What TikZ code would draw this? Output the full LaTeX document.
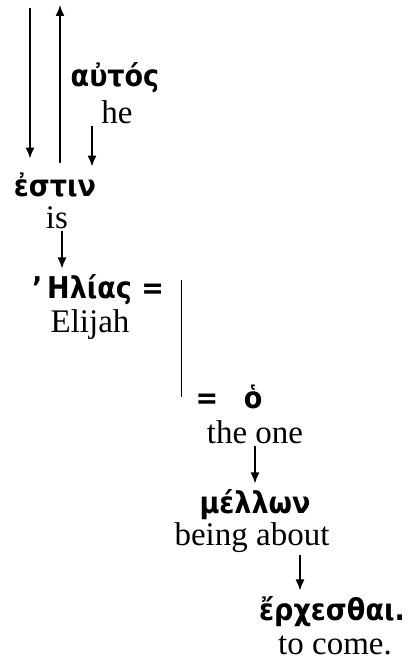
\documentclass[tikz,border=0pt]{standalone}
\usepackage{fontspec}
\setmainfont{Liberation Serif}
\newfontfamily\grk{DejaVu Sans Condensed}
\usetikzlibrary{arrows.meta}
\begin{document}
\begin{tikzpicture}[x=0.5pt,y=-0.5pt,
  gk/.style={font=\grk\bfseries\fontsize{15}{18}\selectfont, inner sep=1pt},
  en/.style={font=\fontsize{16.5}{19}\selectfont, inner sep=1pt},
  arr/.style={-{Latex[length=5.5pt,width=4.5pt]}, line width=0.7pt}
]
\useasboundingbox (0,0) rectangle (414,662);
% words and glosses
\node[gk] (autos) at (115,78) {αὐτός};
\node[en] (he) at (117,112) {he};
\node[gk] (estin) at (55,185) {ἐστιν};
\node[en] (is) at (57,218) {is};
\node[gk] (elias) at (98,290) {’\,Ηλίας =};
\node[en] (elijah) at (90,325) {Elijah};
\node[gk] (ho) at (229,397) {=\hspace{0.85em}ὁ};
\node[en] (theone) at (255,432) {the one};
\node[gk] (mellon) at (255,505) {μέλλων};
\node[en] (being) at (252,538) {being about};
\node[gk] (erch) at (332,612) {ἔρχεσθαι.};
\node[en] (tocome) at (335,645) {to come.};
% free ends at the top
\coordinate (top1) at (30,8);
\coordinate (top2) at (60,5);
\coordinate (barbot) at ([xshift=-6pt]ho.west);
% connectors
\draw[arr] (top1) -- ([xshift=-12.5pt,yshift=6pt]estin.north);
\draw[arr] ([xshift=2.5pt,yshift=4pt]estin.north) -- (top2);
\draw[arr] ([xshift=-12.5pt]he.south) -- ([xshift=18.5pt,yshift=2pt]estin.north);
\draw[arr] ([xshift=2.5pt]is.south) -- ([xshift=-18pt,yshift=2pt]elias.north);
\draw[line width=0.7pt] (barbot) -- ([yshift=-4pt]barbot |- elias.north);
\draw[arr] (theone.south) -- ([yshift=2pt]mellon.north);
\draw[arr] ([xshift=24pt]being.south) -- ([xshift=-16pt,yshift=2pt]erch.north);
\end{tikzpicture}
\end{document}
